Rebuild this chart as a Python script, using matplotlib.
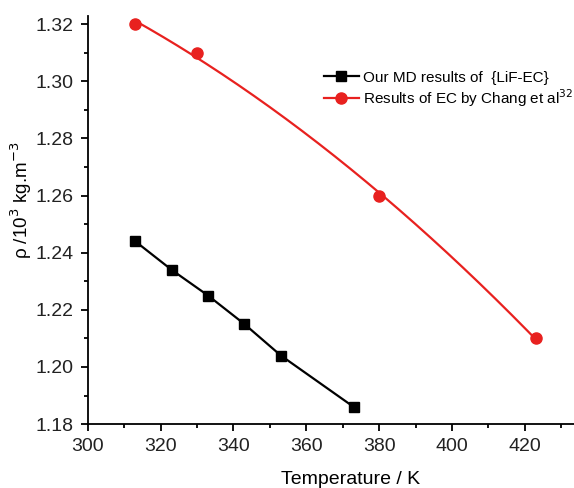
import numpy as np
import matplotlib
matplotlib.use("Agg")
import matplotlib.pyplot as plt
from matplotlib.ticker import MultipleLocator

plt.rcParams['font.family'] = ['Liberation Sans', 'DejaVu Sans']

md_T = [313, 323, 333, 343, 353, 373]
md_rho = [1.244, 1.234, 1.225, 1.215, 1.204, 1.186]
ec_T = [313, 330, 380, 423]
ec_rho = [1.320, 1.310, 1.260, 1.210]

md_label = "Our MD results of  {LiF-EC}"
ec_label = "Results of EC by Chang et al$^{32}$"

fig = plt.figure(figsize=(5.74, 4.88), dpi=100)
ax = fig.add_axes([0.153, 0.131, 0.847, 0.836])

red = '#e8211f'
ax.plot(md_T, md_rho, color='black', lw=1.6, marker='s', ms=6.5, label=md_label)

# smooth curve through the EC points
coef = np.polyfit(ec_T, ec_rho, 2)
tt = np.linspace(min(ec_T), max(ec_T), 200)
ax.plot(tt, np.polyval(coef, tt), color=red, lw=1.6)
ax.plot(ec_T, ec_rho, linestyle='none', marker='o', ms=8, color=red)
ax.plot([], [], color=red, lw=1.6, marker='o', ms=8, label=ec_label)

ax.set_xlim(300, 433.5)
ax.set_ylim(1.18, 1.3228)
ax.xaxis.set_major_locator(MultipleLocator(20))
ax.xaxis.set_minor_locator(MultipleLocator(10))
ax.yaxis.set_major_locator(MultipleLocator(0.02))
ax.yaxis.set_minor_locator(MultipleLocator(0.01))
ax.yaxis.set_major_formatter(matplotlib.ticker.FormatStrFormatter('%.2f'))
for s in ['top', 'right']:
    ax.spines[s].set_visible(False)
for s in ['left', 'bottom']:
    ax.spines[s].set_linewidth(1.3)
ax.tick_params(which='major', direction='out', length=5, width=1.3, labelsize=14,
               labelcolor='#222222', pad=5)
ax.tick_params(which='minor', direction='out', length=3, width=1.3)

ax.set_xlabel("Temperature / K", fontsize=14)
ax.xaxis.set_label_coords(0.541, -0.115)
ax.set_ylabel("ρ /10$^3$ kg.m$^{-3}$", fontsize=13.5)
ax.yaxis.set_label_coords(-0.137, 0.549)
ax.yaxis.label.set_va('center')

leg = ax.legend(loc='upper left', bbox_to_anchor=(0.457, 0.9), frameon=False,
                fontsize=11, handlelength=2.3, handletextpad=0.3, labelspacing=0.15)

fig.savefig("out.png", dpi=100)
